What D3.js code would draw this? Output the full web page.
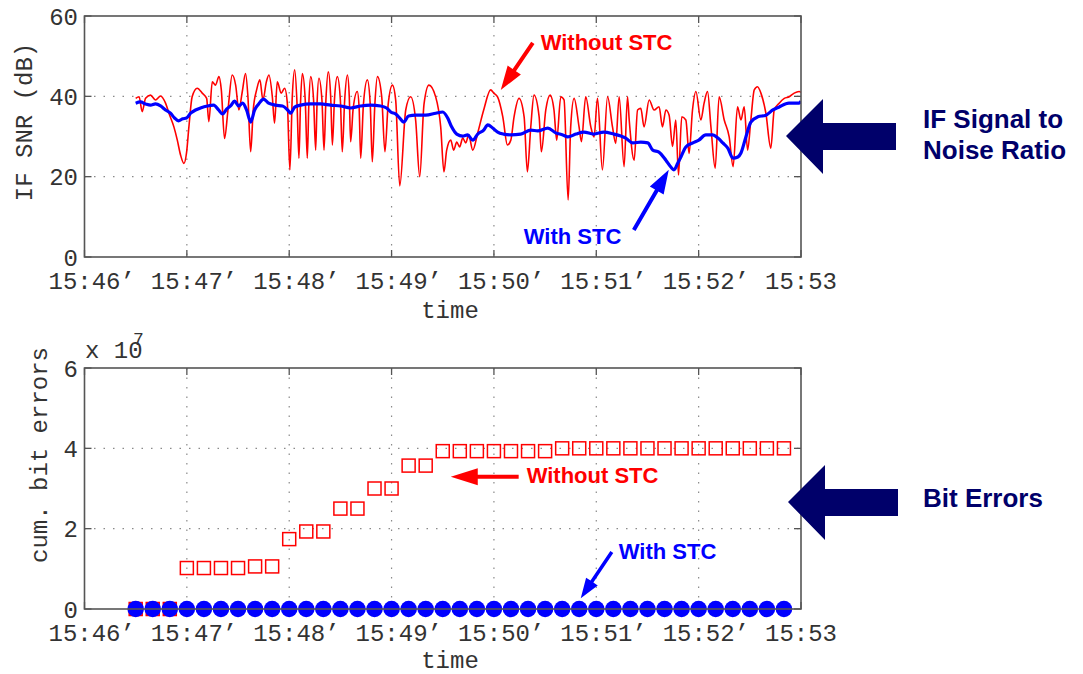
<!DOCTYPE html>
<html><head><meta charset="utf-8">
<script src="https://cdn.jsdelivr.net/npm/d3@7"></script>
<style>body{margin:0;background:#fff}svg{display:block}</style>
</head><body>
<svg id="c" width="1083" height="674"></svg>
<script>
// ---------- data (time in seconds after 15:46:00) ----------
const xTickSec = [0, 60, 120, 180, 240, 300, 360, 420];
const xTickLabels = ["15:46’", "15:47’", "15:48’", "15:49’", "15:50’", "15:51’", "15:52’", "15:53"];
const snrTicks = [0, 20, 40, 60];
const errTicks = [0, 2, 4, 6];

// IF SNR (dB), without STC
const snrWithout = [[30,39.5],[32,39.9],[33.8,36.2],[35.8,39.5],[38.7,40.3],[41.6,39.1],[44.6,40.1],[47.5,38.3],[49.5,35.8],[52.4,32.4],[54.4,29.1],[56.3,25.4],[58.3,23.3],[59.8,25.9],[61.2,32.4],[63.1,39.9],[66.1,42.0],[69,40.8],[71.6,39.5],[72.9,33.7],[74.9,43.6],[76.8,42.8],[78.8,44.9],[80.2,41.6],[82.1,29.5],[84.1,36.6],[86.6,45.3],[88.6,42.8],[90.5,36.6],[92.5,41.2],[94.4,45.7],[95.8,39.9],[97.4,26.2],[98.9,36.6],[100.9,41.6],[102.8,44.1],[104.6,39.1],[106.6,43.6],[108.1,45.3],[110.1,39.9],[111.4,33.3],[113,43.6],[115.3,40.8],[117.3,42.0],[118.9,38.3],[120.4,21.7],[121.8,39.9],[123.2,46.6],[124.6,38],[125.7,24.6],[126.6,38],[127.7,45.7],[129.4,39],[130.6,24.6],[131.5,38],[132.6,44.9],[134.3,39],[135.5,26.6],[136.3,38],[137.4,44.5],[139.2,39],[140.4,26.6],[141.5,39],[142.9,46.1],[144.3,40],[145.3,27.9],[146.5,39],[148.2,44.9],[150,39],[151.1,26.2],[152.5,39],[154.1,45.3],[155.2,40],[156,28.7],[157.5,37],[159.9,41.2],[161,37],[161.9,24.6],[163.5,38],[165.8,44.1],[167.5,38],[168.7,23.7],[170.2,38],[171.7,44.9],[174.2,40],[176.1,26.2],[178,38],[180.5,42.8],[182.4,39.1],[184.8,17.7],[188.3,36.6],[191.2,39.9],[194.1,34.1],[196.5,20.0],[199,38],[201.9,42.8],[205.9,39.8],[208.8,32.4],[210.7,21.2],[212.3,26.6],[214.7,29.1],[216.4,26.6],[218.2,28.6],[219.9,27.4],[221.7,29.6],[223.5,28.4],[225.2,30.4],[227.6,26.6],[230.5,30.9],[234,36.6],[238.1,41.6],[239.9,40.8],[242.2,39.8],[245.2,34.9],[247.9,27.9],[249.9,29.1],[251.8,34.9],[254.7,39.5],[257.7,34.9],[259.6,21.2],[261.6,32.4],[263.5,40.3],[266.5,34.9],[267.8,26.2],[270.4,36.6],[272.9,40.3],[275.2,36.6],[276.8,29.1],[279.2,39.9],[281.1,39.1],[283.5,14.2],[285,32.4],[287,39.5],[289.9,32.4],[291.3,28.7],[293.8,39.9],[296.8,32.4],[298.7,29.9],[300.7,39.5],[303.6,21.7],[306.6,39.9],[309.5,32.4],[311.4,28.3],[313.4,39.9],[316.3,22.5],[318.3,39.9],[319.3,34.1],[322.2,24.1],[324.2,36.6],[326.1,37],[328,32.4],[331,39.1],[333.9,36.6],[336.8,37.4],[338.8,32.4],[340.8,36.6],[342.7,35.3],[344.7,27.5],[346.6,34.1],[348.2,20.4],[350.1,34.9],[352.5,34.1],[354.4,25.8],[356.4,36.6],[358.4,41.2],[361.3,34.1],[363.2,38.3],[365.2,41.2],[367.2,32.4],[369.7,22.1],[372,39.9],[375,34.1],[377.9,29.9],[380.2,22.5],[382.8,37.4],[384.8,34.1],[386.7,37.4],[388.7,26.6],[390.6,34.1],[392.6,41.6],[394.5,42.4],[396.5,40.8],[399.4,35.8],[402.3,27.1],[404.3,36.6],[407.2,38.3],[410.2,39.5],[413.1,39.9],[416,40.8],[418.9,41.2],[420,41]];

// IF SNR (dB), with STC
const snrWith = [[30,38.3],[32.8,38.6],[35.8,38.1],[38.7,37.8],[41.6,38.1],[44.6,37.6],[47.5,36.6],[50.4,35.8],[52.8,34.6],[55.1,33.9],[57.5,34.4],[59.8,34.6],[62.2,35.8],[65.1,36.6],[68,37.1],[72.1,37.6],[75.7,37.8],[78.6,36.6],[80.9,35.6],[83.3,36.8],[85.6,37.6],[88,38.8],[90.3,37.6],[92.7,38.3],[95,36.6],[97.4,33.6],[99.7,36.6],[102.1,38.1],[105,39.3],[107.9,38.3],[112,37.8],[116.1,37.6],[119.1,36.6],[120.8,35.8],[123.2,37.3],[126.7,37.8],[132.6,38.1],[138.4,38.1],[144.3,37.8],[150.1,37.6],[156,37.1],[161.9,37.6],[167.7,37.8],[173.6,37.6],[177.1,37.1],[179.5,36.1],[182.4,35.6],[184.8,34.6],[187.1,33.6],[190,35.1],[194.1,35.3],[200,35.3],[205.9,35.8],[210,36.1],[212.9,34.6],[215.2,32.4],[218.2,30.6],[221.7,30.1],[224.6,30.4],[227.6,29.1],[230.5,30.6],[234,31.6],[236.4,32.9],[239.3,32.1],[242.2,31.1],[245.7,30.6],[249.9,30.4],[255.7,30.6],[261.6,31.6],[265.7,31.4],[271.6,32.1],[276.2,30.9],[280.4,30.4],[283.3,29.9],[288,30.6],[292.7,31.1],[298.5,30.6],[304.4,31.1],[310.3,30.6],[314.4,30.1],[317.3,29.6],[321.4,28.4],[326.1,28.6],[330.2,28.4],[333.1,26.6],[336.7,26.1],[340.8,24.1],[343.7,22.4],[345.5,21.7],[347.8,23.4],[349.6,24.9],[352.5,27.4],[356.6,28.4],[360.1,29.1],[364.2,30.4],[368.3,30.4],[371.3,29.6],[374.2,28.4],[377.1,27.1],[380.1,24.6],[383,24.9],[384.8,25.9],[387.7,29.9],[390.6,33.6],[394.7,34.9],[399.4,35.3],[403.5,36.6],[407,37.3],[412.9,38.3],[418.8,38.3],[420,38.8]];

// cumulative bit errors (x 10^7), sampled every 10 s
const errSec = [30,40,50,60,70,80,90,100,110,120,130,140,150,160,170,180,190,200,210,220,230,240,250,260,270,280,290,300,310,320,330,340,350,360,370,380,390,400,410];
const errWithout = [0,0,0,1.02,1.02,1.02,1.02,1.06,1.06,1.74,1.93,1.93,2.5,2.5,3.0,3.0,3.57,3.57,3.93,3.93,3.93,3.93,3.93,3.93,3.93,4.0,4.0,4.0,4.0,4.0,4.0,4.0,4.0,4.0,4.0,4.0,4.0,4.0,4.0];
const errWith = [0,0,0,0,0,0,0,0,0,0,0,0,0,0,0,0,0,0,0,0,0,0,0,0,0,0,0,0,0,0,0,0,0,0,0,0,0,0,0];

// ---------- drawing ----------
const svg = d3.select("#c");
const RED = "#ff0000", BLUE = "#0000ff", NAVY = "#00006a";
const MONO = "'Liberation Mono', 'Courier New', monospace";
const SANS = "'Liberation Sans', Arial, sans-serif";
const FS = 24, CW = FS * 0.6;

const x = d3.scaleLinear().domain([0, 420]).range([84.5, 801]);
const panels = [
  {top: 16, bot: 257, dom: [0, 60], ticks: snrTicks, label: "IF SNR (dB)", labX: 32, labY: 122, titleY: 318},
  {top: 368, bot: 609, dom: [0, 6], ticks: errTicks, label: "cum. bit errors", labX: 47, labY: 455, titleY: 668}
];
panels.forEach((p, i) => {
  p.y = d3.scaleLinear().domain(p.dom).range([p.bot, p.top]);
  const g = svg.append("g");
  // grid
  g.selectAll(".vg").data(xTickSec.slice(1, -1)).join("line")
    .attr("x1", d => x(d)).attr("x2", d => x(d)).attr("y1", p.top).attr("y2", p.bot)
    .attr("stroke", "#8a8a8a").attr("stroke-width", 1.2).attr("stroke-dasharray", "1.5,8");
  g.selectAll(".hg").data(p.ticks.slice(1, -1)).join("line")
    .attr("x1", x.range()[0]).attr("x2", x.range()[1]).attr("y1", d => p.y(d)).attr("y2", d => p.y(d))
    .attr("stroke", "#8a8a8a").attr("stroke-width", 1.2).attr("stroke-dasharray", "1.5,8");
  // ticks (inward, all four sides)
  xTickSec.forEach(t => {
    g.append("line").attr("x1", x(t)).attr("x2", x(t)).attr("y1", p.top).attr("y2", p.top + 7).attr("stroke", "#555").attr("stroke-width", 1.3);
    g.append("line").attr("x1", x(t)).attr("x2", x(t)).attr("y1", p.bot).attr("y2", p.bot - 7).attr("stroke", "#555").attr("stroke-width", 1.3);
  });
  p.ticks.forEach(v => {
    g.append("line").attr("x1", x.range()[0]).attr("x2", x.range()[0] + 7).attr("y1", p.y(v)).attr("y2", p.y(v)).attr("stroke", "#555").attr("stroke-width", 1.3);
    g.append("line").attr("x1", x.range()[1]).attr("x2", x.range()[1] - 7).attr("y1", p.y(v)).attr("y2", p.y(v)).attr("stroke", "#555").attr("stroke-width", 1.3);
  });
  // tick labels
  g.selectAll(".xl").data(xTickSec).join("text")
    .attr("x", d => x(d) - 2.5 * CW).attr("y", p.bot + 32)
    .attr("font-family", MONO).attr("font-size", FS).attr("fill", "#333")
    .text((d, j) => xTickLabels[j]);
  g.selectAll(".yl").data(p.ticks).join("text")
    .attr("x", 78).attr("y", d => p.y(d)).attr("dy", "0.36em").attr("text-anchor", "end")
    .attr("font-family", MONO).attr("font-size", FS).attr("fill", "#333")
    .text(d => d);
  // axis titles
  g.append("text").attr("x", 450).attr("y", p.titleY).attr("text-anchor", "middle")
    .attr("font-family", MONO).attr("font-size", FS).attr("fill", "#333").text("time");
  g.append("text").attr("transform", `translate(${p.labX},${p.labY}) rotate(-90)`).attr("text-anchor", "middle")
    .attr("font-family", MONO).attr("font-size", FS).attr("fill", "#333").text(p.label);
});

const P0 = panels[0], P1 = panels[1];
svg.append("clipPath").attr("id", "clip0").append("rect")
  .attr("x", x.range()[0]).attr("y", P0.top).attr("width", x.range()[1] - x.range()[0]).attr("height", P0.bot - P0.top);

// SNR lines
const line0 = d3.line().x(d => x(d[0])).y(d => P0.y(d[1])).curve(d3.curveMonotoneX);
const lg = svg.append("g").attr("clip-path", "url(#clip0)");
lg.append("path").datum(snrWithout).attr("d", line0).attr("fill", "none").attr("stroke", RED).attr("stroke-width", 1.6).attr("stroke-linejoin", "round");
lg.append("path").datum(snrWith).attr("d", line0).attr("fill", "none").attr("stroke", BLUE).attr("stroke-width", 3.2).attr("stroke-linejoin", "round");

// bit error markers
const sq = 13;
svg.append("g").selectAll("rect").data(errSec.map((t, i) => [t, errWithout[i]])).join("rect")
  .attr("x", d => x(d[0]) - sq / 2).attr("y", d => P1.y(d[1]) - sq / 2).attr("width", sq).attr("height", sq)
  .attr("fill", "none").attr("stroke", RED).attr("stroke-width", 1.5);
svg.append("g").selectAll("circle").data(errSec.map((t, i) => [t, errWith[i]])).join("circle")
  .attr("cx", d => x(d[0])).attr("cy", d => P1.y(d[1])).attr("r", 8.3).attr("fill", BLUE);

// frames
panels.forEach(p => {
  svg.append("rect").attr("x", x.range()[0]).attr("y", p.top).attr("width", x.range()[1] - x.range()[0]).attr("height", p.bot - p.top)
    .attr("fill", "none").attr("stroke", "#555").attr("stroke-width", 1.6);
});

// x 10^7 exponent
svg.append("text").attr("x", 85).attr("y", 358).attr("font-family", MONO).attr("font-size", FS).attr("fill", "#333").text("x 10");
svg.append("text").attr("x", 133).attr("y", 345).attr("font-family", MONO).attr("font-size", 18).attr("fill", "#333").text("7");

// annotation arrows
function arrow(x1, y1, x2, y2, color, shaft, headL, headW) {
  const dx = x2 - x1, dy = y2 - y1, len = Math.hypot(dx, dy);
  const ux = dx / len, uy = dy / len, nx = -uy, ny = ux;
  const bx = x2 - ux * headL, by = y2 - uy * headL;
  const pts = [
    [x1 + nx * shaft / 2, y1 + ny * shaft / 2], [bx + nx * shaft / 2, by + ny * shaft / 2],
    [bx + nx * headW / 2, by + ny * headW / 2], [x2, y2],
    [bx - nx * headW / 2, by - ny * headW / 2], [bx - nx * shaft / 2, by - ny * shaft / 2],
    [x1 - nx * shaft / 2, y1 - ny * shaft / 2]];
  svg.append("path").attr("d", "M" + pts.map(p => p.join(",")).join("L") + "Z").attr("fill", color);
}
function label(px, py, txt, color, size) {
  svg.append("text").attr("x", px).attr("y", py).attr("font-family", SANS).attr("font-weight", "bold")
    .attr("font-size", size).attr("fill", color).text(txt);
}
// top panel
arrow(x(262.8), P0.y(53.3), x(244), P0.y(41.6), RED, 4, 24, 16);
label(x(267.4), P0.y(51.6), "Without STC", RED, 22);
arrow(x(322), P0.y(6.7), x(342.5), P0.y(21.7), BLUE, 4, 24, 16);
label(x(257.5), P0.y(3.2), "With STC", BLUE, 22);
// bottom panel
arrow(x(254.5), P1.y(3.29), x(214.7), P1.y(3.29), RED, 4, 27, 17);
label(x(259.2), P1.y(3.14), "Without STC", RED, 22);
arrow(x(309.1), P1.y(1.42), x(290.9), P1.y(0.27), BLUE, 3.5, 20, 14);
label(x(313.2), P1.y(1.24), "With STC", BLUE, 22);

// big side arrows
function bigArrow(tipX, tipY) {
  const pts = [[tipX, tipY], [tipX + 37, tipY - 37], [tipX + 37, tipY - 13], [tipX + 110, tipY - 13],
               [tipX + 110, tipY + 14], [tipX + 37, tipY + 14], [tipX + 37, tipY + 38]];
  svg.append("path").attr("d", "M" + pts.map(p => p.join(",")).join("L") + "Z").attr("fill", NAVY);
}
bigArrow(786, 136);
bigArrow(788, 502);
label(923, 128, "IF Signal to", NAVY, 26);
label(923, 159, "Noise Ratio", NAVY, 26);
label(923, 507, "Bit Errors", NAVY, 26);
</script>
</body></html>
